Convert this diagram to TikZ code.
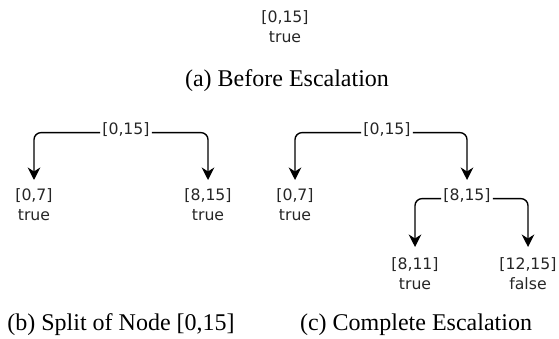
\documentclass[tikz,border=0pt]{standalone}
\usepackage{fontspec}
\setmainfont{Liberation Serif}
\newfontfamily\nodefont{DejaVu Sans}
\usetikzlibrary{arrows.meta}
\begin{document}
\begin{tikzpicture}[x=1pt,y=-1pt,
  tn/.style={anchor=north, inner ysep=0pt, inner xsep=2pt, align=center,
    font=\nodefont\fontsize{15.7}{20}\selectfont, text=black!85},
  captext/.style={anchor=base, inner sep=0pt, font=\fontsize{24}{28}\selectfont},
  edge/.style={line width=1.4pt, rounded corners=7pt,
    -{Stealth[length=12.5pt,width=12.5pt,inset=4pt]}, shorten >=8pt},
  edgelow/.style={edge, shorten >=10pt}]
\useasboundingbox (0,0) rectangle (559,339);

% (a)
\node[tn] (a0) at (285,10) {[0,15]\\true};
\node[captext] (capa) at (287,87) {(a) Before Escalation};

% (b)
\node[tn] (rb) at (126,122) {[0,15]};
\node[tn] (b1) at (34,188) {[0,7]\\true};
\node[tn] (b2) at (208,188) {[8,15]\\true};
\draw[edge] ([yshift=1.5pt]rb.base west) -| (b1.north);
\draw[edge] ([yshift=1.5pt]rb.base east) -| (b2.north);
\node[captext] (capb) at (121,330) {(b) Split of Node [0,15]};

% (c)
\node[tn] (rc) at (387,122) {[0,15]};
\node[tn] (c1) at (295,188) {[0,7]\\true};
\node[tn] (c2) at (467,188) {[8,15]};
\node[tn] (c21) at (415,257) {[8,11]\\true};
\node[tn] (c22) at (528,257) {[12,15]\\false};
\draw[edge] ([yshift=1.5pt]rc.base west) -| (c1.north);
\draw[edge] ([yshift=1.5pt]rc.base east) -| (c2.north);
\draw[edgelow] ([yshift=1.5pt]c2.base west) -| (c21.north);
\draw[edgelow] ([yshift=1.5pt]c2.base east) -| (c22.north);
\node[captext] (capc) at (416,330) {(c) Complete Escalation};
\end{tikzpicture}
\end{document}
